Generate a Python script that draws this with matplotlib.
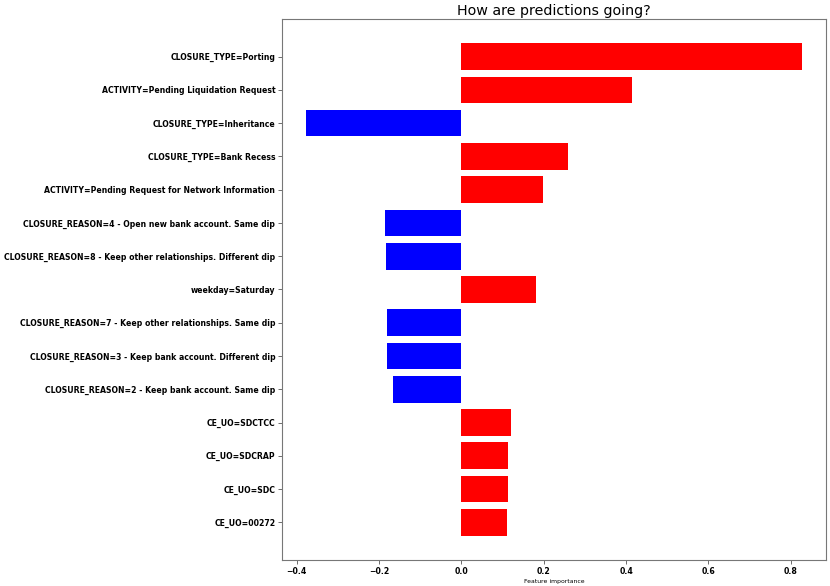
import numpy as np
import matplotlib
matplotlib.use("Agg")
import matplotlib.pyplot as plt

# feature names, top to bottom
features = [
    "CLOSURE_TYPE=Porting",
    "ACTIVITY=Pending Liquidation Request",
    "CLOSURE_TYPE=Inheritance",
    "CLOSURE_TYPE=Bank Recess",
    "ACTIVITY=Pending Request for Network Information",
    "CLOSURE_REASON=4 - Open new bank account. Same dip",
    "CLOSURE_REASON=8 - Keep other relationships. Different dip",
    "weekday=Saturday",
    "CLOSURE_REASON=7 - Keep other relationships. Same dip",
    "CLOSURE_REASON=3 - Keep bank account. Different dip",
    "CLOSURE_REASON=2 - Keep bank account. Same dip",
    "CE_UO=SDCTCC",
    "CE_UO=SDCRAP",
    "CE_UO=SDC",
    "CE_UO=00272",
]
importance = [0.826, 0.415, -0.376, 0.259, 0.198, -0.186, -0.184, 0.181,
              -0.181, -0.181, -0.167, 0.120, 0.113, 0.113, 0.111]

# reverse so first feature ends up on top
vals = np.array(importance[::-1])
names = features[::-1]
colors = ["red" if v > 0 else "blue" for v in vals]
pos = np.arange(len(vals))

fig = plt.figure(figsize=(8.3, 5.86), dpi=100)
ax = fig.add_axes([0.340, 0.044, 0.655, 0.924])
ax.barh(pos, vals, align="center", color=colors, height=0.8)
ax.set_yticks(pos)
ax.set_yticklabels(names, fontsize=5.6, fontweight="bold")
ax.set_xlim(-0.435, 0.885)
ax.set_xticks([-0.4, -0.2, 0.0, 0.2, 0.4, 0.6, 0.8])
for lab in ax.get_xticklabels():
    lab.set_fontsize(5.6)
    lab.set_fontweight("bold")
ax.tick_params(axis="both", length=3, width=0.6, pad=2, color="#555555")
for s in ax.spines.values():
    s.set_color("#777777")
    s.set_linewidth(0.8)
ax.set_xlabel("Feature importance", fontsize=4.4, labelpad=2)
ax.set_title("How are predictions going?", fontsize=10.3, pad=3)

plt.savefig("out.png", dpi=100)
